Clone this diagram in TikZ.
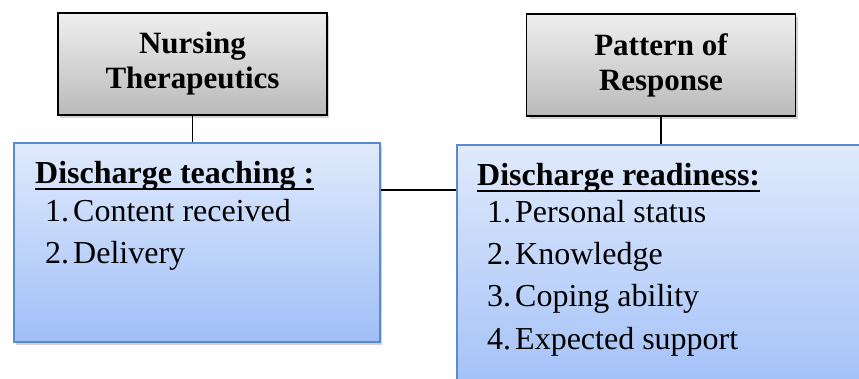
\documentclass[tikz,border=0pt]{standalone}
\usepackage{fontspec}
\setmainfont{Liberation Serif}
\usetikzlibrary{shadows}

\definecolor{graytop}{HTML}{EFEFEF}
\definecolor{graybot}{HTML}{BABABA}
\definecolor{bluetop}{HTML}{E0EAFC}
\definecolor{bluebot}{HTML}{A0BFF7}
\definecolor{blueline}{HTML}{5A8AD0}

% number in a fixed slot, then the entry text
\newcommand{\listentry}[2]{\makebox[28pt][l]{#1.}#2}

\tikzset{
  concept/.style={draw=black,line width=1.6pt,top color=graytop,bottom color=graybot,
    minimum width=269pt,minimum height=102pt,inner sep=0pt,align=center,
    font=\bfseries\fontsize{31}{35}\selectfont,
    drop shadow={shadow xshift=2pt,shadow yshift=-3pt,opacity=.35}},
  detail/.style={draw=blueline,line width=1.6pt,top color=bluetop,bottom color=bluebot,
    inner sep=0pt,
    drop shadow={shadow xshift=2pt,shadow yshift=-3pt,opacity=.35}},
  heading/.style={anchor=base west,inner sep=0pt,font=\bfseries\fontsize{32}{36}\selectfont},
  entry/.style={anchor=base west,inner sep=0pt,font=\fontsize{32}{36}\selectfont},
  link/.style={line width=1.6pt},
  underbar/.style={line width=2.6pt}
}

\begin{document}
\begin{tikzpicture}[x=1pt,y=-1pt]
  \useasboundingbox (0,0) rectangle (859,378);

  % top level concepts
  \node[concept] (therapeutics) at (192.5,64) {Nursing\\Therapeutics};
  \node[concept] (response) at (661,65) {Pattern of\\Response};

  % detail boxes (the right one runs off the page)
  \node[detail,minimum width=366pt,minimum height=199pt] (teaching) at (197,242.5) {};
  \node[detail,minimum width=423pt,minimum height=255pt] (readiness) at (668.5,272.5) {};

  % connectors
  \draw[link] (therapeutics.south) -- (therapeutics.south |- teaching.north);
  \draw[link] (response.south) -- (response.south |- readiness.north);
  \draw[link] ([yshift=52.5pt]teaching.east) coordinate (tie) -- (tie -| readiness.west);

  % left box text
  \node[heading] (teachhead) at (35,183) {Discharge teaching :};
  \draw[underbar] ([yshift=-6pt]teachhead.base west) -- ([yshift=-6pt]teachhead.base east);
  \node[entry] (teachone) at (45,221) {\listentry{1}{Content received}};
  \node[entry] (teachtwo) at (45,263) {\listentry{2}{Delivery}};

  % right box text
  \node[heading] (readyhead) at (477,185) {Discharge readiness:};
  \draw[underbar] ([yshift=-6pt]readyhead.base west) -- ([yshift=-6pt]readyhead.base east);
  \node[entry] (readyone) at (487,222.5) {\listentry{1}{Personal status}};
  \node[entry] (readytwo) at (487,264) {\listentry{2}{Knowledge}};
  \node[entry] (readythree) at (487,306) {\listentry{3}{Coping ability}};
  \node[entry] (readyfour) at (487,349) {\listentry{4}{Expected support}};
\end{tikzpicture}
\end{document}
